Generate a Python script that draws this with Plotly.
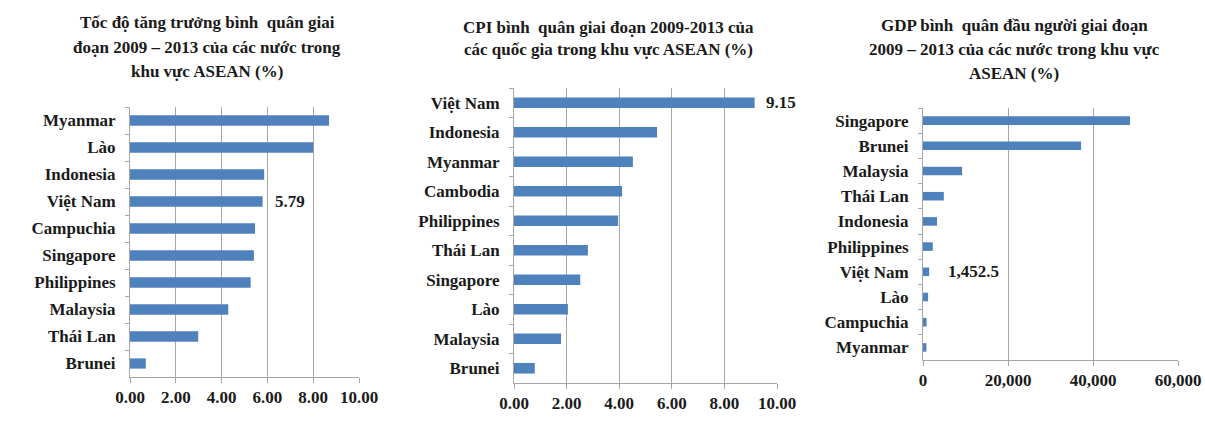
import plotly.graph_objects as go

# Average growth rate 2009-2013 (%)
growth_countries = ["Myanmar", "Lào", "Indonesia", "Việt Nam", "Campuchia",
                    "Singapore", "Philippines", "Malaysia", "Thái Lan", "Brunei"]
growth_values = [8.69, 8.00, 5.86, 5.79, 5.46, 5.41, 5.27, 4.29, 2.98, 0.69]

# Average CPI 2009-2013 (%)
cpi_countries = ["Việt Nam", "Indonesia", "Myanmar", "Cambodia", "Philippines",
                 "Thái Lan", "Singapore", "Lào", "Malaysia", "Brunei"]
cpi_values = [9.15, 5.44, 4.52, 4.11, 3.96, 2.81, 2.52, 2.05, 1.79, 0.79]

# Average GDP per capita 2009-2013
gdp_countries = ["Singapore", "Brunei", "Malaysia", "Thái Lan", "Indonesia",
                 "Philippines", "Việt Nam", "Lào", "Campuchia", "Myanmar"]
gdp_values = [48700, 37200, 9200, 4900, 3300, 2300, 1452.5, 1200, 850, 800]

growth_ticks = [0, 2, 4, 6, 8, 10]
growth_ticklabels = ["0.00", "2.00", "4.00", "6.00", "8.00", "10.00"]
cpi_ticks = [0, 2, 4, 6, 8, 10]
cpi_ticklabels = ["0.00", "2.00", "4.00", "6.00", "8.00", "10.00"]
gdp_ticks = [0, 20000, 40000, 60000]
gdp_ticklabels = ["0", "20,000", "40,000", "60,000"]

growth_title = ["Tốc độ tăng trưởng bình  quân giai",
                "đoạn 2009 – 2013 của các nước trong",
                "khu vực ASEAN (%)"]
cpi_title = ["CPI bình  quân giai đoạn 2009-2013 của",
             "các quốc gia trong khu vực ASEAN (%)"]
gdp_title = ["GDP bình  quân đầu người giai đoạn",
             "2009 – 2013 của các nước trong khu vực",
             "ASEAN (%)"]

W, H = 1205, 423
BAR = "#4F81BD"
GRID = "#A6A6A6"
FONT = "Liberation Serif"
TXT = "#1a1a1a"
FS = 17


def px_x(a, b):
    return [a / W, b / W]


def px_y(top, bottom):
    return [1 - bottom / H, 1 - top / H]


fig = go.Figure()

panels = [
    dict(cats=growth_countries, vals=growth_values, xr=[0, 10], ticks=growth_ticks,
         tlabels=growth_ticklabels, xd=px_x(130, 359), yd=px_y(107, 377), width=0.38,
         label_idx=3, label_text="5.79", label_shift=10,
         title=growth_title, tcx=207, ty=[23, 48, 71]),
    dict(cats=cpi_countries, vals=cpi_values, xr=[0, 10], ticks=cpi_ticks,
         tlabels=cpi_ticklabels, xd=px_x(514, 777), yd=px_y(88, 383), width=0.36,
         label_idx=0, label_text="9.15", label_shift=9,
         title=cpi_title, tcx=608, ty=[28, 50]),
    dict(cats=gdp_countries, vals=gdp_values, xr=[0, 60000], ticks=gdp_ticks,
         tlabels=gdp_ticklabels, xd=px_x(923, 1178), yd=px_y(108, 360), width=0.34,
         label_idx=6, label_text="1,452.5", label_shift=17,
         title=gdp_title, tcx=1014, ty=[26, 50, 73]),
]

annotations = []
for i, p in enumerate(panels, start=1):
    sfx = "" if i == 1 else str(i)
    fig.add_trace(go.Bar(
        x=p["vals"], y=p["cats"], orientation="h", width=p["width"],
        marker=dict(color=BAR, line=dict(width=0)),
        xaxis="x" + sfx, yaxis="y" + sfx, showlegend=False,
    ))
    fig.layout["xaxis" + sfx] = dict(
        domain=p["xd"], range=p["xr"], anchor="y" + sfx,
        tickvals=p["ticks"], ticktext=p["tlabels"],
        showgrid=True, gridcolor=GRID, gridwidth=1,
        showline=True, linecolor=GRID, linewidth=1,
        ticks="outside", ticklen=5, tickcolor=GRID,
        zeroline=False, fixedrange=True, automargin=False,
        tickfont=dict(family=FONT, size=FS, color=TXT, weight="bold"),
    )
    fig.layout["yaxis" + sfx] = dict(
        domain=p["yd"], anchor="x" + sfx, autorange="reversed",
        type="category", showline=True, linecolor=GRID, linewidth=1,
        ticks="outside", ticklen=4, tickcolor=GRID, tickson="boundaries",
        showgrid=False, fixedrange=True, ticklabelstandoff=10, automargin=False,
        tickfont=dict(family=FONT, size=FS, color=TXT, weight="bold"),
    )
    # value label next to the highlighted bar
    k = p["label_idx"]
    annotations.append(dict(
        text="<b>" + p["label_text"] + "</b>", x=p["vals"][k], y=p["cats"][k],
        xref="x" + sfx, yref="y" + sfx, xanchor="left", yanchor="middle",
        xshift=p["label_shift"], showarrow=False,
        font=dict(family=FONT, size=FS, color=TXT),
    ))
    for line, ty in zip(p["title"], p["ty"]):
        annotations.append(dict(
            text="<b>" + line + "</b>", x=p["tcx"] / W, y=1 - ty / H,
            xref="paper", yref="paper", xanchor="center", yanchor="middle",
            showarrow=False, font=dict(family=FONT, size=FS, color=TXT),
        ))

fig.update_layout(
    width=W, height=H, margin=dict(l=0, r=0, t=0, b=0),
    paper_bgcolor="white", plot_bgcolor="white",
    annotations=annotations,
    font=dict(family=FONT, color=TXT),
)

fig.write_html("out.html")
